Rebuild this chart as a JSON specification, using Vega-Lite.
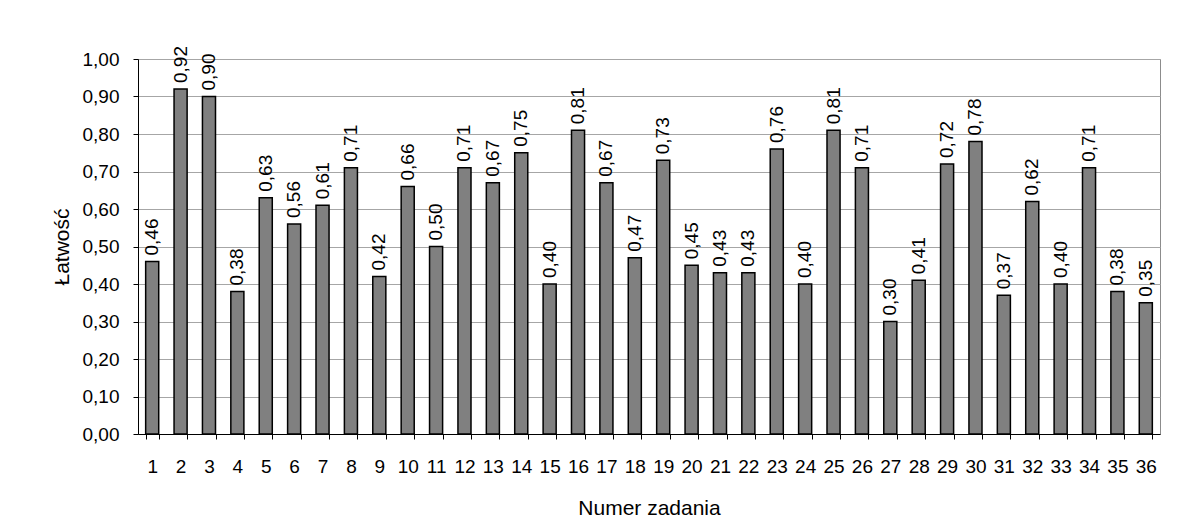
{
  "$schema": "https://vega.github.io/schema/vega-lite/v6.json",
  "width": 1022,
  "height": 375,
  "autosize": {"type": "none"},
  "padding": {"left": 138, "top": 59, "right": 26, "bottom": 97},
  "background": "white",
  "config": {
    "locale": {"number": {"decimal": ",", "thousands": " ", "grouping": [3], "currency": ["", " zł"]}},
    "font": "Liberation Sans",
    "view": {"stroke": "#8c8c8c", "strokeWidth": 1},
    "axis": {"labelFont": "Liberation Sans", "titleFont": "Liberation Sans", "labelColor": "black", "titleColor": "black", "titleFontWeight": "normal"}
  },
  "data": {"values": [
    {"zadanie": "1", "latwosc": 0.46},
    {"zadanie": "2", "latwosc": 0.92},
    {"zadanie": "3", "latwosc": 0.90},
    {"zadanie": "4", "latwosc": 0.38},
    {"zadanie": "5", "latwosc": 0.63},
    {"zadanie": "6", "latwosc": 0.56},
    {"zadanie": "7", "latwosc": 0.61},
    {"zadanie": "8", "latwosc": 0.71},
    {"zadanie": "9", "latwosc": 0.42},
    {"zadanie": "10", "latwosc": 0.66},
    {"zadanie": "11", "latwosc": 0.50},
    {"zadanie": "12", "latwosc": 0.71},
    {"zadanie": "13", "latwosc": 0.67},
    {"zadanie": "14", "latwosc": 0.75},
    {"zadanie": "15", "latwosc": 0.40},
    {"zadanie": "16", "latwosc": 0.81},
    {"zadanie": "17", "latwosc": 0.67},
    {"zadanie": "18", "latwosc": 0.47},
    {"zadanie": "19", "latwosc": 0.73},
    {"zadanie": "20", "latwosc": 0.45},
    {"zadanie": "21", "latwosc": 0.43},
    {"zadanie": "22", "latwosc": 0.43},
    {"zadanie": "23", "latwosc": 0.76},
    {"zadanie": "24", "latwosc": 0.40},
    {"zadanie": "25", "latwosc": 0.81},
    {"zadanie": "26", "latwosc": 0.71},
    {"zadanie": "27", "latwosc": 0.30},
    {"zadanie": "28", "latwosc": 0.41},
    {"zadanie": "29", "latwosc": 0.72},
    {"zadanie": "30", "latwosc": 0.78},
    {"zadanie": "31", "latwosc": 0.37},
    {"zadanie": "32", "latwosc": 0.62},
    {"zadanie": "33", "latwosc": 0.40},
    {"zadanie": "34", "latwosc": 0.71},
    {"zadanie": "35", "latwosc": 0.38},
    {"zadanie": "36", "latwosc": 0.35}
  ]},
  "encoding": {
    "x": {
      "field": "zadanie", "type": "ordinal", "sort": null,
      "scale": {"paddingInner": 0.54, "paddingOuter": 0.27},
      "axis": {"title": "Numer zadania", "titleFontSize": 21, "titlePadding": 21, "labelAngle": 0, "labelFontSize": 19, "labelPadding": 18, "tickBand": "extent", "tickColor": "black", "tickSize": 5, "domainColor": "black", "grid": false}
    },
    "y": {
      "field": "latwosc", "type": "quantitative",
      "scale": {"domain": [0, 1], "nice": false},
      "axis": {"title": "Łatwość", "titleFontSize": 21, "titlePadding": 10, "labelFontSize": 19, "labelPadding": 14, "format": ".2f", "values": [0, 0.1, 0.2, 0.3, 0.4, 0.5, 0.6, 0.7, 0.8, 0.9, 1.0], "tickColor": "black", "tickSize": 5, "domainColor": "black", "gridColor": "#a6a6a6", "gridOpacity": 1}
    }
  },
  "layer": [
    {"mark": {"type": "bar", "fill": "#808080", "stroke": "black", "strokeWidth": 1.5, "cornerRadius": 0}},
    {"mark": {"type": "text", "angle": 270, "align": "left", "baseline": "middle", "dx": 6, "fontSize": 19, "font": "Liberation Sans", "color": "black"},
     "encoding": {"text": {"field": "latwosc", "type": "quantitative", "format": ".2f"}}}
  ]
}
